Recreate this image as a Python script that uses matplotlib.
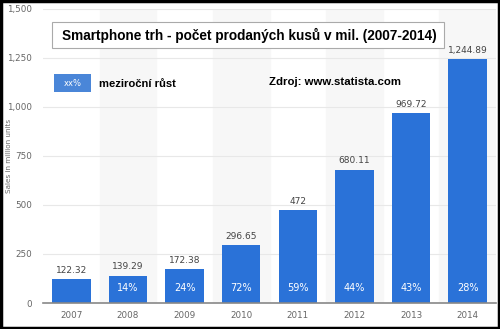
import numpy as np
import matplotlib.pyplot as plt
from matplotlib.patches import Rectangle

years = ['2007', '2008', '2009', '2010', '2011', '2012', '2013', '2014']
sales = [122.32, 139.29, 172.38, 296.65, 472, 680.11, 969.72, 1244.89]
value_labels = ['122.32', '139.29', '172.38', '296.65', '472', '680.11', '969.72', '1,244.89']
growth = ['', '14%', '24%', '72%', '59%', '44%', '43%', '28%']
yticks = [0, 250, 500, 750, 1000, 1250, 1500]

plt.rcParams['font.family'] = ['DejaVu Sans']
narrow = ['Liberation Sans', 'DejaVu Sans']

fig = plt.figure(figsize=(5, 3.29), dpi=100)
ax = fig.add_axes([0.086, 0.079, 0.906, 0.894])

x = np.arange(len(years))
# alternating column shading
for i in x:
    if i % 2 == 1:
        ax.axvspan(i - 0.5, i + 0.5, color='#f7f7f7', zorder=0)

ax.bar(x, sales, width=0.68, color='#2a72d8', zorder=3)

for i, v in enumerate(sales):
    ax.text(i, v + 22, value_labels[i], ha='center', va='bottom',
            fontsize=6.5, color='#444444', zorder=4)
    if growth[i]:
        ax.text(i, 77, growth[i], ha='center', va='center',
                fontsize=7, color='white', zorder=4)

ax.set_xlim(-0.5, 7.5)
ax.set_ylim(0, 1500)
ax.set_yticks(yticks)
ax.set_yticklabels(['{:,}'.format(t) for t in yticks])
ax.set_xticks(x)
ax.set_xticklabels(years)
ax.tick_params(axis='both', length=0, labelsize=6.3, colors='#666666')
ax.tick_params(axis='x', pad=6)
ax.tick_params(axis='y', pad=8)
ax.grid(axis='y', color='#e8e8e8', linewidth=0.8, zorder=1)
for s in ['top', 'right', 'left']:
    ax.spines[s].set_visible(False)
ax.spines['bottom'].set_color('#888888')
ax.spines['bottom'].set_linewidth(1.2)
ax.spines['bottom'].set_zorder(5)
ax.set_ylabel('Sales in million units', fontsize=5.2, color='#666666')
ax.yaxis.set_label_coords(-0.068, 0.5)

# title box
fig.patches.append(Rectangle((0.104, 0.854), 0.784, 0.079, transform=fig.transFigure,
                             facecolor='white', edgecolor='#aaaaaa', linewidth=0.8, zorder=5))
fig.text(0.4985, 0.892, 'Smartphone trh - počet prodaných kusů v mil. (2007-2014)',
         ha='center', va='center', fontsize=9.8, fontweight='bold', color='black',
         family=narrow, zorder=6)

# legend
fig.patches.append(Rectangle((0.108, 0.72), 0.074, 0.055, transform=fig.transFigure,
                             facecolor='#4a86d8', edgecolor='none', zorder=5))
fig.text(0.145, 0.746, 'xx%', ha='center', va='center', fontsize=6, color='white', zorder=6)
fig.text(0.198, 0.745, 'meziroční růst', ha='left', va='center', fontsize=8.1,
         fontweight='bold', color='black', family=narrow, zorder=6)
fig.text(0.538, 0.751, 'Zdroj: www.statista.com', ha='left', va='center', fontsize=8.2,
         fontweight='bold', color='black', family=narrow, zorder=6)

# outer black frame
fig.patches.append(Rectangle((0.002, 0.003), 0.995, 0.994, transform=fig.transFigure,
                             facecolor='none', edgecolor='black', linewidth=2.5, zorder=10))

fig.savefig('out.png', dpi=100)
